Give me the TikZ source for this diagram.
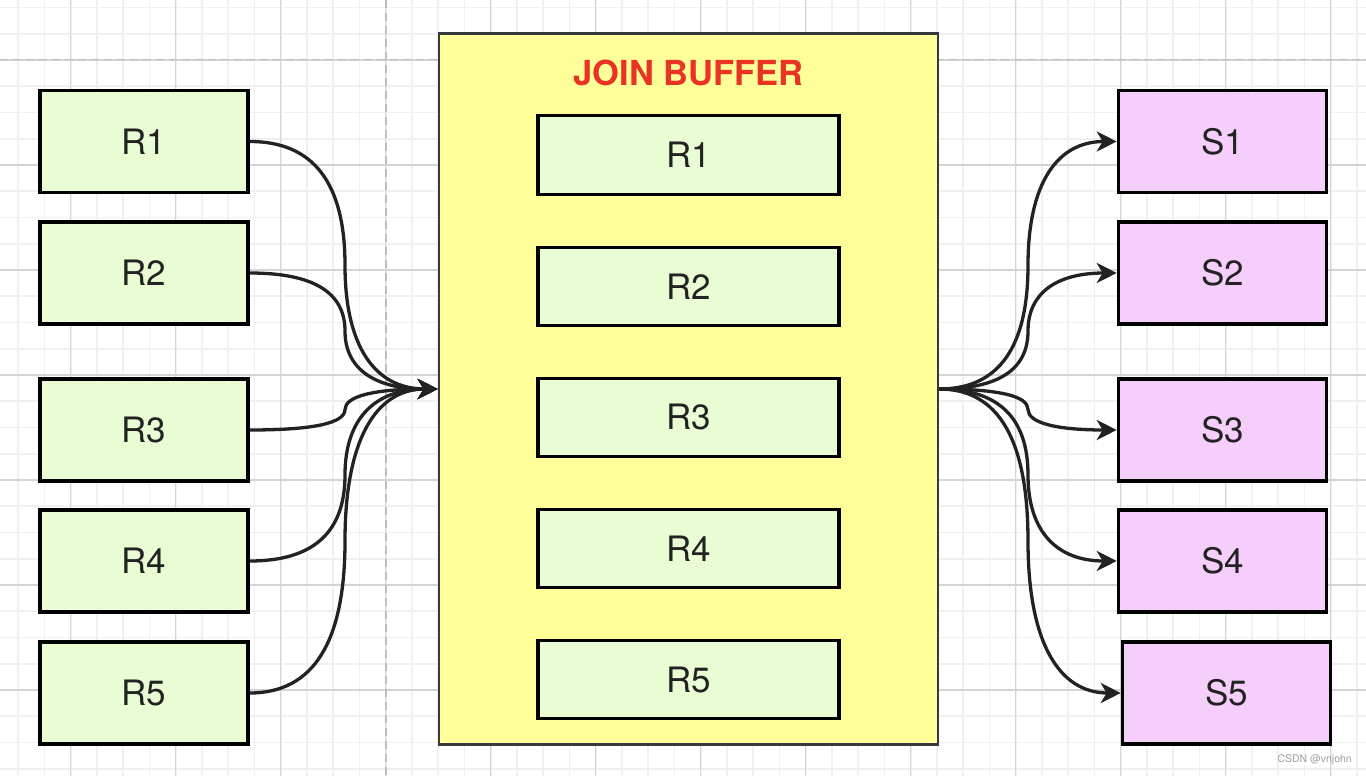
\documentclass[tikz,border=0pt]{standalone}
\usepackage{fontspec}
\setmainfont{TeX Gyre Heros}
\usetikzlibrary{arrows.meta,calc}
\definecolor{gmin}{HTML}{F0F0F0}
\definecolor{gmaj}{HTML}{D4D4D4}
\definecolor{dashc}{HTML}{BDBDBD}
\definecolor{rfill}{HTML}{E9FCD3}
\definecolor{sfill}{HTML}{F5CEFB}
\definecolor{yfill}{HTML}{FFFF99}
\definecolor{yedge}{HTML}{36393D}
\definecolor{tred}{HTML}{EA3323}
\definecolor{ink}{HTML}{222222}
\begin{document}
\begin{tikzpicture}[x=1pt,y=-1pt,
  rbox/.style={draw=black,line width=3.6pt,fill=rfill,minimum width=208pt,minimum height=102pt,inner sep=0pt,text=ink,font=\fontsize{35}{42}\selectfont},
  sbox/.style={rbox,fill=sfill},
  ibox/.style={rbox,line width=3.4pt,minimum width=301pt,minimum height=78.5pt},
  buffer/.style={draw=yedge,line width=2.6pt,fill=yfill,minimum width=499pt,minimum height=711pt,inner sep=0pt},
  conn/.style={draw=ink,line width=3.3pt,-{Stealth[length=20pt,width=20pt,inset=6pt]}},
  minorline/.style={gmin,line width=1.6pt},
  majorline/.style={gmaj,line width=1.1pt},
  guide/.style={dashc,line width=1.6pt,dash pattern=on 8pt off 5pt},
]
\useasboundingbox (0,0) rectangle (1366,776);
\fill[white] (0,0) rectangle (1366,776);
% grid
\foreach \k in {0,...,52} \draw[minorline] ({-8.05+26.25*\k},0) -- ++(0,776);
\foreach \k in {0,...,29} \draw[minorline] (0,{7.5+26.25*\k}) -- ++(1366,0);
\foreach \k in {0,...,12} \draw[majorline] ({70.7+105*\k},0) -- ++(0,776);
\foreach \k in {0,...,6} \draw[majorline] (0,{60+105*\k}) -- ++(1366,0);
\draw[guide] (0,59.5) -- (1366,59.5);
\draw[guide] (386,0) -- (386,776);
% buffer
\node[buffer] (buf) at (688.5,389) {};
\node[font=\bfseries\fontsize{34.5}{41}\selectfont,text=tred,inner sep=0pt] (title) at (688.5,73.3) {JOIN BUFFER};
\node[ibox] (b1) at (688.5,155) {R1};
\node[ibox] (b2) at (688.5,286.5) {R2};
\node[ibox] (b3) at (688.5,417.5) {R3};
\node[ibox] (b4) at (688.5,548.5) {R4};
\node[ibox] (b5) at (688.5,679.5) {R5};
% left and right
\node[rbox] (r1) at (144,141.5) {R1};
\node[rbox] (r2) at (144,273) {R2};
\node[rbox] (r3) at (144,430) {R3};
\node[rbox] (r4) at (144,561) {R4};
\node[rbox] (r5) at (144,693) {R5};
\node[sbox] (s1) at (1222.5,141.5) {S1};
\node[sbox] (s2) at (1222.5,273) {S2};
\node[sbox] (s3) at (1222.5,430) {S3};
\node[sbox] (s4) at (1222.5,561) {S4};
\node[sbox] (s5) at (1226.5,693) {S5};
\coordinate (vl) at (345,0);
\coordinate (vr) at (1028,0);
\foreach \i in {1,...,5} {
  \path (r\i.east -| vl) coordinate (c1) (buf.west -| vl) coordinate (c2) ($(c1)!0.5!(c2)$) coordinate (m);
  \draw[conn] (r\i.east) .. controls ($(r\i.east)!2/3!(c1)$) and ($(m)!2/3!(c1)$) .. (m)
     .. controls ($(m)!2/3!(c2)$) and ($(buf.west)!2/3!(c2)$) .. (buf.west);
  \path (buf.east -| vr) coordinate (d1) (s\i.west -| vr) coordinate (d2) ($(d1)!0.5!(d2)$) coordinate (n);
  \draw[conn] (buf.east) .. controls ($(buf.east)!2/3!(d1)$) and ($(n)!2/3!(d1)$) .. (n)
     .. controls ($(n)!2/3!(d2)$) and ($(s\i.west)!2/3!(d2)$) .. (s\i.west);
}
\node[anchor=east,text=black!38,font=\fontsize{10.5}{12}\selectfont,inner sep=0pt] (wm) at (1352,760) {CSDN @vnjohn};
\end{tikzpicture}
\end{document}
